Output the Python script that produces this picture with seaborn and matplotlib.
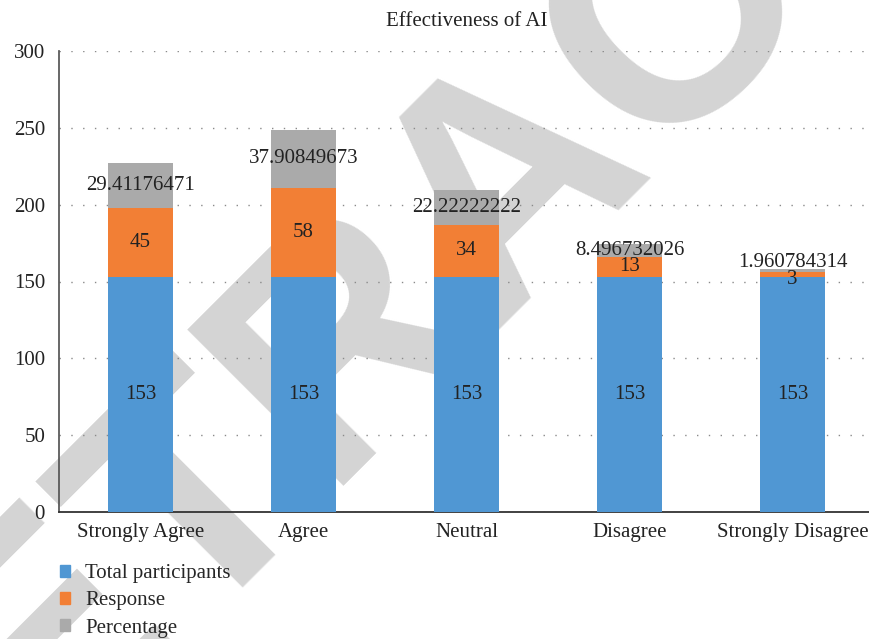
import pandas as pd
import seaborn as sns
import matplotlib.pyplot as plt
from matplotlib.patches import Patch

# Survey data
categories = ['Strongly Agree', 'Agree', 'Neutral', 'Disagree', 'Strongly Disagree']
total_participants = [153, 153, 153, 153, 153]
response = [45, 58, 34, 13, 3]
percentage = [29.41176471, 37.90849673, 22.22222222, 8.496732026, 1.960784314]
percentage_labels = ['29.41176471', '37.90849673', '22.22222222', '8.496732026', '1.960784314']

df = pd.DataFrame({'Category': categories, 'Total': total_participants,
                   'Response': response, 'Percentage': percentage})
df['TotalResp'] = df['Total'] + df['Response']
df['All'] = df['TotalResp'] + df['Percentage']

c_blue = '#5097d3'
c_orange = '#f27f35'
c_gray = '#aaaaaa'
fs = 15

# small nudges so thin-segment labels don't collide (like the original)
pct_nudge = [0, 0, 0, 0, 5.5]
resp_nudge = [0, 0, 0, 0, -3]

sns.set_theme(style='white')
plt.rcParams['font.family'] = ['Liberation Serif', 'DejaVu Serif']

fig = plt.figure(figsize=(8.7, 6.39), dpi=100)
ax = fig.add_axes([59 / 870, 127 / 639, 815 / 870, 461 / 639])
ax.patch.set_alpha(0)

# watermark behind the chart
fig.text(0.588, 0.718, 'RETRACTED', rotation=45, fontsize=232, color='#d4d4d4',
         family='Liberation Sans', fontweight='bold', ha='center', va='center', zorder=-5)

# stacked bars drawn back to front as cumulative heights
sns.barplot(data=df, x='Category', y='All', color=c_gray, width=0.4, saturation=1, linewidth=0, ax=ax, zorder=3)
sns.barplot(data=df, x='Category', y='TotalResp', color=c_orange, width=0.4, saturation=1, linewidth=0, ax=ax, zorder=3)
sns.barplot(data=df, x='Category', y='Total', color=c_blue, width=0.4, saturation=1, linewidth=0, ax=ax, zorder=3)

# segment labels, centred in each segment
for i, row in df.iterrows():
    ax.text(i, row['Total'] / 2, str(row['Total']), ha='center', va='center', fontsize=fs, color='#222222', zorder=5)
    ax.text(i, row['Total'] + row['Response'] / 2 + resp_nudge[i], str(row['Response']),
            ha='center', va='center', fontsize=fs, color='#222222', zorder=5)
    ax.text(i, row['TotalResp'] + row['Percentage'] / 2 + pct_nudge[i], percentage_labels[i],
            ha='center', va='center', fontsize=fs, color='#222222', zorder=5)

ax.set_ylim(0, 300)
ax.set_xlim(-0.5, 4.5)
ax.set_yticks(range(0, 301, 50))
ax.set_xlabel('')
ax.set_ylabel('')
ax.yaxis.grid(True, linestyle=(0, (1, 7.5)), color='#8a8a8a', linewidth=1)
ax.set_axisbelow(True)
ax.tick_params(axis='y', length=6, width=1, color='#555555', labelsize=fs, labelcolor='#222222', pad=4)
ax.tick_params(axis='x', length=0, labelsize=fs, labelcolor='#222222', pad=8)
for s in ['top', 'right']:
    ax.spines[s].set_visible(False)
ax.spines['left'].set_color('#555555')
ax.spines['bottom'].set_color('#333333')
ax.spines['bottom'].set_linewidth(1.3)

fig.text(467 / 870, 1 - 22 / 639, 'Effectiveness of AI', ha='center', va='center', fontsize=fs, color='#222222')

handles = [Patch(color=c_blue), Patch(color=c_orange), Patch(color=c_gray)]
fig.legend(handles, ['Total participants', 'Response', 'Percentage'], loc='upper left',
           bbox_to_anchor=(60 / 870, 1 - 564 / 639), frameon=False, fontsize=fs,
           borderaxespad=0, borderpad=0,
           handlelength=0.5, handleheight=0.5, handletextpad=0.7, labelspacing=0.4)

fig.savefig('out.png', dpi=100)
